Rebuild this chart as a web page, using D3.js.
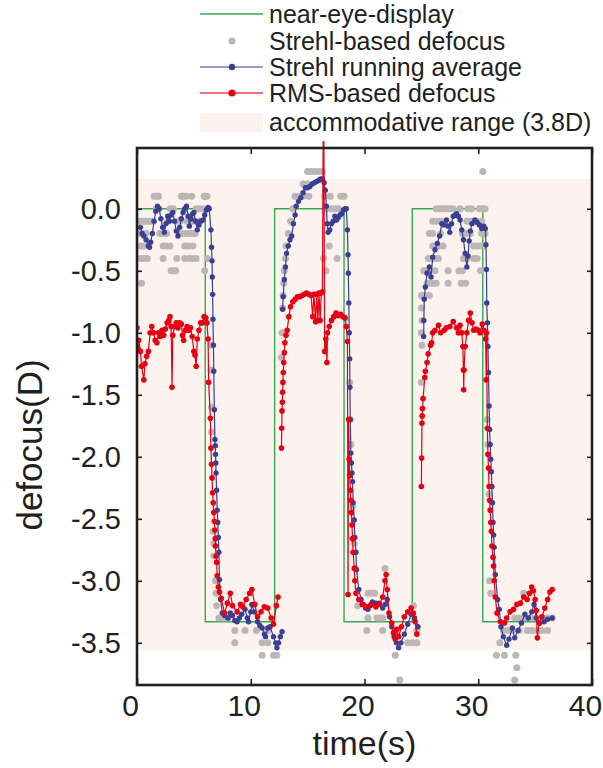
<!DOCTYPE html>
<html>
<head>
<meta charset="utf-8">
<script src="https://cdn.jsdelivr.net/npm/d3@7"></script>
<style>
body { margin: 0; background: #fff; }
text { font-family: "Liberation Sans", Arial, sans-serif; fill: #231f20; }
</style>
</head>
<body>
<svg id="chart" width="603" height="768"></svg>
<script>
// near-eye-display stimulus (step changes)
var nearEye = [[0,0],[6.0,-3.33],[12.1,0],[18.2,-3.33],[24.2,0],[30.4,-3.33],[35.6,-3.33]];

// accommodative range band
var accomRange = [0.24, -3.56];

// Strehl-based defocus, quantized samples
var strehlRaw = [
  [1.5,0.1],[1.7,0.1],[1.9,0.1],[3.9,0.1],[4.0,0.1],[4.3,0.1],[4.8,0.1],[5.9,0.1],[6.0,0.1],[6.15,0.1],
  [1.7,0],[1.9,0],[2.9,0],[3.2,0],[5.2,0],[5.5,0],[5.8,0],
  [0,-0.1],[0.2,-0.1],[0.4,-0.1],[0.6,-0.1],[0.8,-0.1],[1.0,-0.1],[1.2,-0.1],[1.4,-0.1],[2.7,-0.1],[3.6,-0.1],[3.8,-0.1],[4.4,-0.1],[4.8,-0.1],[5.1,-0.1],[5.5,-0.1],
  [0.1,-0.2],[0.5,-0.2],[0.8,-0.2],[2.0,-0.2],[2.3,-0.2],[2.6,-0.2],[4.0,-0.2],[4.3,-0.2],[4.6,-0.2],[4.9,-0.2],[5.1,-0.2],
  [0.3,-0.3],[0.6,-0.3],[2.3,-0.3],[2.6,-0.3],[2.9,-0.3],[4.2,-0.3],[4.5,-0.3],[4.9,-0.3],
  [0.3,-0.4],[0.6,-0.4],[0.9,-0.4],[2.3,-0.4],[3.5,-0.4],[4.2,-0.4],[4.6,-0.4],[4.9,-0.4],[5.2,-0.4],[6.2,-0.4],
  [3.0,-0.5],[3.2,-0.5],[3.4,-0.5],[5.95,-0.5],[0.4,-0.6],
  [6.5,-1.1],[6.5,-1.3],[6.55,-1.6],[6.55,-1.8],[6.7,-2.6],[6.75,-2.7],[6.75,-2.8],[6.9,-3.0],[6.95,-3.1],[7.0,-3.2],
  [7.2,-3.3],[7.4,-3.3],[7.6,-3.3],[7.8,-3.3],[8.0,-3.3],[8.6,-3.4],[9.5,-3.4],[10.5,-3.4],[11.5,-3.4],
  [8.6,-3.5],[11.0,-3.5],[11.5,-3.5],[11.0,-3.6],[12.0,-3.6],[12.3,-3.6],
  [12.7,-1.2],[12.75,-1.0],[12.8,-0.8],[12.85,-0.7],[12.9,-0.6],[12.95,-0.5],[13.05,-0.4],[13.1,-0.3],[13.3,-0.2],[13.5,-0.1],[13.7,0],[13.9,0.1],
  [14.3,0.1],[14.6,0.1],[15.1,0.1],[14.6,0.2],[15.0,0.2],[15.0,0.3],[15.3,0.3],[15.6,0.3],[16.0,0.3],[16.3,0.3],
  [16.5,0.1],[17.0,0.1],[17.9,0.1],[18.2,0.1],[16.7,0],[17.1,0],[17.4,0],[17.7,0],
  [16.9,-0.3],[16.4,-0.4],[17.6,-0.4],[16.6,-0.5],
  [18.7,-1.4],[18.75,-1.7],[18.8,-1.9],[18.95,-2.4],[19.1,-2.7],[19.2,-2.9],
  [19.4,-3.2],[20.3,-3.1],[20.6,-3.1],[20.9,-3.1],[20.3,-3.3],[21.1,-3.3],[21.4,-3.3],[21.6,-3.3],[21.8,-2.9],
  [20.2,-3.4],[21.6,-3.4],[22.7,-3.4],[24.6,-3.4],[23.8,-3.5],[24.2,-3.5],[24.6,-3.5],[22.7,-3.6],[23.1,-3.8],[24.3,-3.2],
  [25.0,-1.4],[25.05,-1.1],[25.0,-1.0],[25.05,-0.9],[25.0,-0.8],[25.0,-0.7],[25.3,-0.7],[25.7,-0.7],
  [25.2,-0.5],[25.35,-0.5],[26.2,-0.5],[27.35,-0.5],[28.3,-0.5],[28.6,-0.5],[30.2,-0.5],
  [25.5,-0.6],[25.8,-0.6],[26.1,-0.6],[26.3,-0.6],[27.35,-0.6],[28.5,-0.6],[28.9,-0.6],
  [25.6,-0.4],[25.9,-0.4],[26.2,-0.4],[26.5,-0.4],[28.7,-0.4],[29.0,-0.4],[29.6,-0.4],[29.9,-0.4],
  [26.0,-0.3],[26.3,-0.3],[26.6,-0.3],[26.9,-0.3],[29.6,-0.3],[29.9,-0.3],[30.2,-0.3],[30.5,-0.3],
  [25.7,-0.2],[26.0,-0.2],[26.7,-0.2],[28.6,-0.2],[28.9,-0.2],[29.3,-0.2],[30.3,-0.2],[30.6,-0.2],
  [26.0,-0.1],[26.3,-0.1],[26.7,-0.1],[29.0,-0.1],[29.3,-0.1],[29.9,-0.1],[30.3,-0.1],
  [26.3,0],[26.6,0],[26.9,0],[27.2,0],[27.5,0],[27.8,0],[28.4,0],[29.1,0],[29.4,0],[30.1,0],[30.4,0],[30.6,0],[30.4,0.3],
  [30.8,-1.7],[30.85,-1.9],[30.95,-2.3],[31.0,-3.0],[31.1,-3.1],[31.9,-3.5],
  [31.6,-3.6],[32.3,-3.6],[33.3,-3.6],[33.4,-3.7],[33.2,-3.8],
  [32.2,-3.4],[32.6,-3.4],[33.0,-3.4],[33.6,-3.4],[34.3,-3.4],[34.7,-3.4],[35.2,-3.4],[35.6,-3.4],[36.1,-3.4],
  [33.2,-3.3],[33.6,-3.3],[34.1,-3.3],[34.6,-3.3],[35.1,-3.3],[35.6,-3.3],[36.1,-3.3],[36.5,-3.3],[34.0,-3.1]
];

// Strehl running average
var strehlAvg = [
  [[0.3,-0.15],[0.45,-0.2],[0.6,-0.22],[0.8,-0.25],[1.0,-0.3],[1.1,-0.31],[1.2,-0.27],[1.35,-0.2],[1.5,-0.1],[1.65,-0.02],[1.8,0.02],[1.95,0],
   [2.1,-0.08],[2.25,-0.15],[2.4,-0.19],[2.55,-0.12],[2.7,-0.06],[2.85,-0.1],[3.0,-0.05],[3.15,-0.03],[3.3,-0.1],[3.45,-0.18],[3.6,-0.22],
   [3.75,-0.15],[3.9,-0.08],[4.05,-0.03],[4.2,0],[4.35,0.02],[4.5,-0.06],[4.6,-0.14],[4.75,-0.08],[4.9,-0.04],[5.0,-0.03],[5.15,-0.1],
   [5.3,-0.17],[5.45,-0.13],[5.6,-0.1],[5.8,-0.09],[5.95,-0.05],[6.1,-0.01],[6.25,0.01],[6.35,0],
   [6.5,-0.17],[6.55,-0.31],[6.6,-0.42],[6.62,-0.55],[6.65,-0.69],[6.68,-0.89],[6.72,-1.1],[6.75,-1.31],[6.8,-1.62],[6.85,-1.86],[6.88,-1.91],
   [6.9,-1.98],[6.93,-2.05],[6.95,-2.13],[7.0,-2.27],[7.05,-2.43],[7.1,-2.53],[7.15,-2.65],[7.2,-2.77],[7.25,-2.99],[7.35,-3.15],[7.5,-3.26],
   [7.7,-3.28],[8.0,-3.3],[8.2,-3.26],[8.4,-3.28],[8.6,-3.32],[8.8,-3.33],[9.0,-3.3],[9.2,-3.27],[9.5,-3.23],[9.7,-3.3],[9.8,-3.33],[10.0,-3.25],
   [10.1,-3.19],[10.3,-3.25],[10.6,-3.33],[10.8,-3.36],[11.0,-3.38],[11.2,-3.43],[11.3,-3.45],[11.5,-3.38],[11.7,-3.37],[12.0,-3.45],[12.2,-3.5],
   [12.3,-3.54],[12.45,-3.5],[12.6,-3.45],[12.75,-3.41]],
  [[12.8,-0.81],[12.85,-0.71],[12.95,-0.57],[13.05,-0.47],[13.15,-0.36],[13.3,-0.3],[13.45,-0.25],[13.6,-0.22],[13.75,-0.12],[13.9,-0.05],[14.0,0.02],
   [14.2,0.06],[14.4,0.09],[14.6,0.13],[14.8,0.17],[15.0,0.17],[15.2,0.18],[15.4,0.2],[15.6,0.21],[15.8,0.22],[16.0,0.23],[16.15,0.24],[16.3,0.24],
   [16.45,0.21],[16.55,0.15],[16.65,0.02],[16.72,-0.12],[16.8,-0.19],[16.95,-0.17],[17.1,-0.12],[17.25,-0.1],[17.4,-0.06],[17.55,-0.09],[17.7,-0.07],
   [17.85,-0.05],[18.0,-0.04],[18.15,-0.01],[18.3,0],[18.4,0],
   [18.5,-0.17],[18.55,-0.37],[18.58,-0.52],[18.62,-0.76],[18.66,-1.0],[18.7,-1.21],[18.72,-1.44],[18.75,-1.7],[18.8,-1.97],[18.85,-2.05],
   [18.9,-2.13],[18.95,-2.2],[19.0,-2.37],[19.1,-2.51],[19.15,-2.65],[19.25,-2.77],[19.3,-2.91],[19.5,-3.07],[19.7,-3.15],[19.9,-3.19],[20.1,-3.22],
   [20.3,-3.23],[20.5,-3.2],[20.7,-3.17],[21.0,-3.18],[21.3,-3.18],[21.6,-3.22],[21.8,-3.19],[22.0,-3.15],[22.2,-3.29],[22.4,-3.37],[22.6,-3.45],
   [22.8,-3.5],[23.0,-3.54],[23.2,-3.5],[23.5,-3.43],[23.8,-3.35],[24.1,-3.27],[24.4,-3.3],[24.7,-3.37]],
  [[25.2,-1.03],[25.22,-0.9],[25.25,-0.73],[25.35,-0.63],[25.5,-0.52],[25.7,-0.47],[25.85,-0.55],[26.0,-0.39],[26.2,-0.33],[26.4,-0.28],[26.6,-0.22],
   [26.8,-0.12],[27.0,-0.13],[27.2,-0.09],[27.35,-0.14],[27.5,-0.19],[27.65,-0.12],[27.8,-0.06],[28.0,-0.05],[28.1,-0.04],[28.25,-0.06],[28.4,-0.09],
   [28.55,-0.17],[28.7,-0.25],[28.85,-0.36],[29.0,-0.47],[29.1,-0.38],[29.2,-0.26],[29.3,-0.18],[29.45,-0.12],[29.7,-0.09],[29.9,-0.11],[30.1,-0.13],
   [30.3,-0.16],[30.5,-0.14],[30.62,-0.16],
   [30.68,-0.29],[30.72,-0.49],[30.75,-0.76],[30.8,-0.92],[30.85,-1.11],[30.9,-1.32],[30.95,-1.59],[31.0,-1.78],[31.05,-1.9],[31.1,-2.02],
   [31.15,-2.12],[31.2,-2.24],[31.25,-2.37],[31.3,-2.53],[31.35,-2.63],[31.4,-2.73],[31.5,-2.95],[31.7,-3.15],[31.85,-3.23],[32.0,-3.37],
   [32.2,-3.45],[32.5,-3.52],[32.7,-3.47],[33.0,-3.38],[33.2,-3.46],[33.5,-3.4],[33.8,-3.34],[34.1,-3.27],[34.4,-3.3],[34.7,-3.25],[34.9,-3.19],
   [35.1,-3.3],[35.4,-3.34],[35.8,-3.33],[36.1,-3.31],[36.5,-3.3]]
];

// RMS-based defocus
var rmsDefocus = [
  [[0,-0.96],[0.05,-1.12],[0.15,-1.06],[0.3,-1.15],[0.4,-1.27],[0.6,-1.38],[0.7,-1.25],[0.85,-1.19],[1.0,-1.15],[1.15,-1.0],[1.3,-0.95],[1.45,-1.0],
   [1.6,-1.06],[1.75,-1.08],[1.9,-1.0],[2.05,-1.03],[2.2,-0.98],[2.35,-1.02],[2.5,-0.97],[2.65,-0.92],[2.8,-0.9],[2.9,-0.87],[3.0,-0.95],[3.08,-1.44],
   [3.15,-1.02],[3.3,-0.95],[3.45,-0.92],[3.6,-0.96],[3.75,-0.92],[3.9,-0.93],[4.0,-1.02],[4.1,-1.06],[4.25,-0.98],[4.4,-0.95],[4.55,-0.98],[4.7,-0.96],
   [4.85,-1.03],[5.0,-1.15],[5.1,-1.18],[5.2,-1.27],[5.3,-1.05],[5.45,-0.98],[5.6,-0.92],[5.75,-0.92],[5.9,-0.87],[6.05,-0.88],[6.15,-0.92],[6.25,-1.05],
   [6.3,-1.4],[6.45,-1.69],[6.5,-1.93],[6.55,-2.06],[6.6,-2.17],[6.65,-2.29],[6.7,-2.37],[6.75,-2.45],[6.8,-2.52],[6.85,-2.59],[6.88,-2.66],[6.9,-2.72],
   [6.95,-2.8],[7.0,-2.85],[7.05,-2.96],[7.15,-3.05],[7.25,-3.09],[7.4,-3.14],[7.7,-3.26],[7.95,-3.18],[8.2,-3.1],[8.4,-3.2],[8.8,-3.25],[9.1,-3.19],
   [9.3,-3.21],[9.6,-3.15],[9.9,-3.1],[10.1,-3.07],[10.35,-3.19],[10.6,-3.29],[10.9,-3.25],[11.2,-3.21],[11.5,-3.22],[11.8,-3.3],[12.0,-3.35],
   [12.25,-3.2],[12.4,-3.13]],
  [[12.7,-1.93],[12.72,-1.77],[12.75,-1.63],[12.78,-1.56],[12.8,-1.48],[12.83,-1.4],[12.86,-1.32],[12.9,-1.24],[12.95,-1.16],[13.0,-1.08],[13.1,-1.02],
   [13.2,-0.98],[13.35,-0.87],[13.5,-0.79],[13.7,-0.75],[13.9,-0.73],[14.1,-0.71],[14.3,-0.71],[14.5,-0.7],[14.7,-0.69],[14.9,-0.68],[15.1,-0.69],
   [15.3,-0.7],[15.45,-0.87],[15.55,-0.69],[15.7,-0.91],[15.8,-0.69],[15.9,-0.9],[16.0,-0.68],[16.1,-0.9],[16.2,-0.68],[16.3,-0.67],[16.4,1.2],
   [16.5,-1.15],[16.6,-1.05],[16.7,-1.24],[16.75,-1.0],[16.9,-0.95],[17.1,-0.9],[17.3,-0.87],[17.5,-0.84],[17.7,-0.86],[17.9,-0.85],[18.1,-0.87],
   [18.3,-0.88],[18.4,-0.95],[18.5,-1.07],[18.55,-3.11],[18.6,-1.7],[18.65,-2.02],[18.7,-2.15],[18.75,-2.27],[18.8,-2.35],[18.85,-2.45],[18.9,-2.55],
   [18.95,-2.66],[19.0,-2.77],[19.1,-2.9],[19.15,-3.0],[19.25,-3.1],[19.5,-3.15],[19.8,-3.19],[20.2,-3.21],[20.6,-3.19],[21.0,-3.21],[21.3,-3.19],
   [21.6,-3.13],[21.8,-3.0],[21.9,-2.95],[22.0,-3.07],[22.15,-3.26],[22.4,-3.34],[22.55,-3.42],[22.7,-3.47],[22.85,-3.39],[23.0,-3.45],[23.25,-3.37],
   [23.5,-3.29],[23.8,-3.25],[24.1,-3.22],[24.3,-3.26],[24.45,-3.33],[24.6,-3.43]],
  [[25.0,-2.24],[25.02,-2.01],[25.05,-1.73],[25.07,-1.67],[25.1,-1.61],[25.15,-1.53],[25.3,-1.36],[25.35,-1.31],[25.5,-1.24],[25.6,-1.17],[25.8,-1.1],
   [25.9,-1.08],[26.0,-1.0],[26.2,-0.98],[26.5,-0.94],[26.7,-1.0],[27.0,-0.98],[27.2,-0.96],[27.5,-0.95],[27.8,-0.91],[28.1,-0.96],[28.25,-1.0],
   [28.4,-0.94],[28.55,-1.0],[28.65,-1.11],[28.7,-1.3],[28.72,-1.46],[28.75,-1.3],[28.85,-1.11],[29.0,-1.0],[29.15,-0.9],[29.3,-0.84],[29.45,-0.92],
   [29.6,-0.98],[29.8,-0.97],[30.0,-0.98],[30.15,-1.0],[30.35,-0.93],[30.5,-0.98],[30.65,-1.05],[30.7,-1.38],[30.72,-1.0],[30.8,-1.77],[30.85,-1.98],
   [30.9,-2.09],[30.95,-2.24],[31.0,-2.35],[31.05,-2.43],[31.1,-2.53],[31.15,-2.6],[31.2,-2.72],[31.3,-2.81],[31.35,-2.88],[31.4,-3.0],[31.5,-3.13],
   [31.65,-3.26],[31.95,-3.33],[32.3,-3.34],[32.5,-3.3],[32.8,-3.25],[33.1,-3.23],[33.4,-3.19],[33.7,-3.18],[34.0,-3.13],[34.3,-3.15],[34.5,-3.1],
   [34.7,-3.05],[34.85,-3.08],[35.0,-3.15],[35.1,-3.24],[35.2,-3.46],[35.35,-3.34],[35.6,-3.29],[35.85,-3.22],[36.1,-3.15],[36.3,-3.09],[36.5,-3.07]]
];

var xTicks = [0, 10, 20, 30, 40];
var yTicks = [-3.5, -3.0, -2.5, -2.0, -1.5, -1.0, -0.5, 0.0];

var legendItems = ["near-eye-display", "Strehl-based defocus", "Strehl running average", "RMS-based defocus", "accommodative range (3.8D)"];

var colors = {green: "#34a853", gray: "#bcb6b6", blue: "#3a3f94", red: "#e50012", band: "#fcf2ee", axis: "#231f20"};

var svg = d3.select('#chart');

var plot = {l: 137, r: 592, t: 148, b: 685};

var xScale = d3.scaleLinear().domain([0, 40]).range([plot.l, plot.r]);
var yScale = d3.scaleLinear().domain([-3.84, 0.49]).range([plot.b, plot.t]);

// data may poke a little above the frame (the RMS spike), clip just above it
svg.append('defs').append('clipPath').attr('id', 'dataClip')
    .append('rect')
    .attr('x', plot.l).attr('y', plot.t - 7)
    .attr('width', plot.r - plot.l).attr('height', plot.b - plot.t + 7);

// accommodative range band
svg.append('rect')
    .attr('x', plot.l)
    .attr('width', plot.r - plot.l)
    .attr('y', yScale(accomRange[0]))
    .attr('height', yScale(accomRange[1]) - yScale(accomRange[0]))
    .attr('fill', colors.band);

var dataG = svg.append('g').attr('clip-path', 'url(#dataClip)');

var line = d3.line().x(d => xScale(d[0])).y(d => yScale(d[1]));

dataG.append('path')
    .datum(nearEye)
    .attr('d', line.curve(d3.curveStepAfter))
    .attr('fill', 'none')
    .attr('stroke', colors.green)
    .attr('stroke-width', 1.4);
line.curve(d3.curveLinear);

dataG.append('g').selectAll('circle')
    .data(strehlRaw).enter()
    .append('circle')
    .attr('cx', d => xScale(d[0]))
    .attr('cy', d => yScale(d[1]))
    .attr('r', 3.5)
    .attr('fill', colors.gray);

function drawSeries(segments, color, r) {
    var g = dataG.append('g');
    segments.forEach(function(seg) {
        g.append('path')
            .datum(seg)
            .attr('d', line)
            .attr('fill', 'none')
            .attr('stroke', color)
            .attr('stroke-width', 1.2);
        g.selectAll(null)
            .data(seg).enter()
            .append('circle')
            .attr('cx', d => xScale(d[0]))
            .attr('cy', d => yScale(d[1]))
            .attr('r', r)
            .attr('fill', color);
    });
}
drawSeries(strehlAvg, colors.blue, 2.7);
drawSeries(rmsDefocus, colors.red, 2.8);

// frame with inward ticks on all four sides
var axisG = svg.append('g').attr('class', 'axes');

var xAxis = axisG.append('g')
    .attr('transform', 'translate(0,' + plot.b + ')')
    .call(d3.axisBottom(xScale).tickValues(xTicks).tickSize(-6).tickPadding(10).tickFormat(d3.format('d')));
var xAxisTop = axisG.append('g')
    .attr('transform', 'translate(0,' + plot.t + ')')
    .call(d3.axisTop(xScale).tickValues(xTicks).tickSize(-6).tickFormat(''));
var yAxis = axisG.append('g')
    .attr('transform', 'translate(' + plot.l + ',0)')
    .call(d3.axisLeft(yScale).tickValues(yTicks).tickSize(-5).tickPadding(16).tickFormat(d => d.toFixed(1)));
var yAxisRight = axisG.append('g')
    .attr('transform', 'translate(' + plot.r + ',0)')
    .call(d3.axisRight(yScale).tickValues(yTicks).tickSize(-5).tickFormat(''));

axisG.selectAll('.domain').remove();
axisG.selectAll('.tick line').attr('stroke', colors.axis).attr('stroke-width', 1.6);
axisG.selectAll('.tick text').attr('fill', colors.axis)
    .style('font-family', '"Liberation Sans", Arial, sans-serif');
yAxis.selectAll('.tick text').style('font-size', '29px');
xAxis.selectAll('.tick text').style('font-size', '30px').attr('dx', -7);

axisG.append('rect')
    .attr('x', plot.l).attr('y', plot.t)
    .attr('width', plot.r - plot.l).attr('height', plot.b - plot.t)
    .attr('fill', 'none')
    .attr('stroke', colors.axis)
    .attr('stroke-width', 2.6);

svg.append('text')
    .attr('x', xScale(20))
    .attr('y', 755)
    .attr('text-anchor', 'middle')
    .style('font-size', '34px')
    .text('time(s)');

svg.append('text')
    .attr('transform', 'translate(42,445)rotate(-90)')
    .attr('text-anchor', 'middle')
    .style('font-size', '35px')
    .text('defocus(D)');

// legend
var legend = svg.append('g').attr('transform', 'translate(200,0)');
var rowY = [14, 41, 67, 93, 122];

legend.append('line').attr('x1', 0).attr('x2', 63).attr('y1', rowY[0]).attr('y2', rowY[0])
    .attr('stroke', colors.green).attr('stroke-width', 1.4);
legend.append('circle').attr('cx', 32).attr('cy', rowY[1]).attr('r', 3.6).attr('fill', colors.gray);
legend.append('line').attr('x1', 0).attr('x2', 63).attr('y1', rowY[2]).attr('y2', rowY[2])
    .attr('stroke', colors.blue).attr('stroke-width', 1.2);
legend.append('circle').attr('cx', 32).attr('cy', rowY[2]).attr('r', 3.2).attr('fill', colors.blue);
legend.append('line').attr('x1', 0).attr('x2', 63).attr('y1', rowY[3]).attr('y2', rowY[3])
    .attr('stroke', '#e8424f').attr('stroke-width', 1.4);
legend.append('circle').attr('cx', 32).attr('cy', rowY[3]).attr('r', 3.6).attr('fill', colors.red);
legend.append('rect').attr('x', 0).attr('y', rowY[4] - 9).attr('width', 63).attr('height', 19).attr('fill', colors.band);

legend.selectAll('.legend-label')
    .data(legendItems).enter()
    .append('text')
    .attr('class', 'legend-label')
    .attr('x', 69)
    .attr('y', (d, i) => rowY[i] + 9)
    .style('font-size', '25px')
    .text(d => d);
</script>
</body>
</html>
